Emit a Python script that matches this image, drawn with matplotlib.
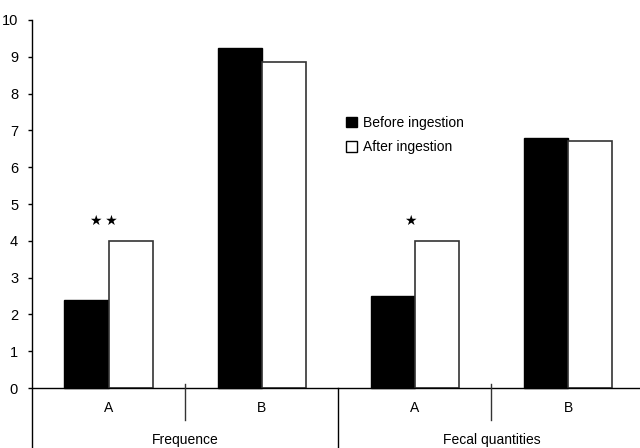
import matplotlib.pyplot as plt
from matplotlib.patches import Patch

plt.rcParams['font.family'] = ['Liberation Sans', 'DejaVu Sans']

# Datos
groups = ['Frequence', 'Fecal quantities']
subcats = ['A', 'B', 'A', 'B']
before = [2.4, 9.25, 2.5, 6.8]
after = [4.0, 8.85, 4.0, 6.7]
stars = ['★\u2009★', '', '★', '']

fig = plt.figure(figsize=(6.4, 4.48), dpi=100)
ax = fig.add_axes([32 / 640, 0, 1 - 32 / 640, 1 - 20 / 448])

x = list(range(len(subcats)))
w = 0.288
ax.bar([i - w / 2 for i in x], before, width=w, color='black', edgecolor='black', lw=1)
ax.bar([i + w / 2 for i in x], after, width=w, color='white', edgecolor='#333333', lw=1.2)

for i, s in enumerate(stars):
    if s:
        ax.text(i - 0.03, 4.55, s, ha='center', va='center', fontsize=10,
                family='DejaVu Sans')

ymin = -1.63
ax.set_ylim(ymin, 10)
ax.set_xlim(-0.5, 3.47)
ax.set_yticks(range(0, 11))
ax.tick_params(axis='y', direction='out', length=3, width=1, labelsize=10.5, pad=7)
ax.set_xticks([])
for s in ['top', 'right', 'bottom']:
    ax.spines[s].set_visible(False)
ax.spines['left'].set_linewidth(1)

# eje x y separadores
ax.axhline(0, color='black', lw=1)
ax.plot([0.5, 0.5], [0.1, -0.87], color='#333333', lw=1)
ax.plot([2.5, 2.5], [0.1, -0.87], color='#333333', lw=1)
ax.plot([1.5, 1.5], [0, ymin], color='black', lw=1, clip_on=False)

for i, c in enumerate(subcats):
    ax.text(i, -0.55, c, ha='center', va='center', fontsize=10)
for j, g in enumerate(groups):
    ax.text(0.5 + 2 * j, -1.42, g, ha='center', va='center', fontsize=10)

handles = [Patch(facecolor='black', edgecolor='black', label='Before ingestion'),
           Patch(facecolor='white', edgecolor='black', label='After ingestion')]
ax.legend(handles=handles, loc='upper left', bbox_to_anchor=(0.496, 0.805),
          frameon=False, fontsize=10, handlelength=0.8, handleheight=0.8,
          handletextpad=0.4, labelspacing=0.75)

plt.savefig('out.png', dpi=100)
plt.close()
